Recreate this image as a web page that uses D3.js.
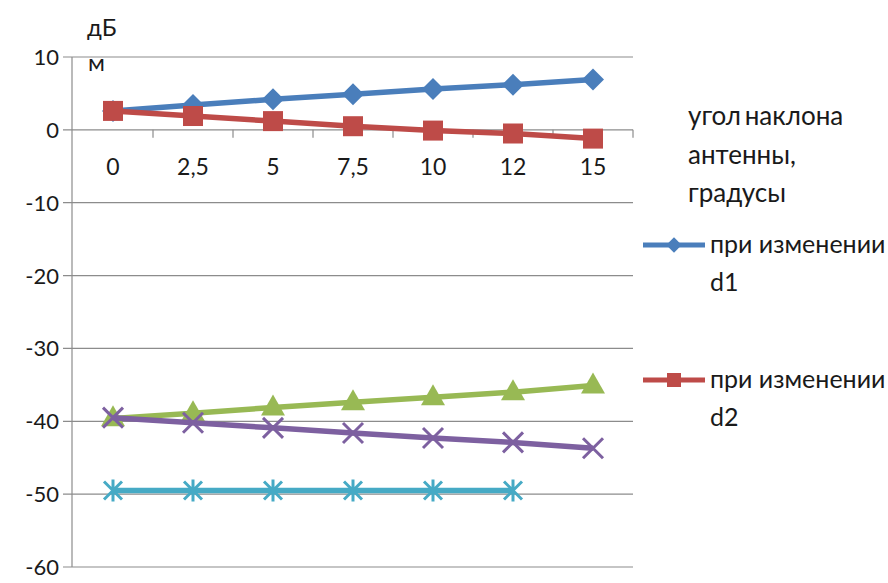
<!DOCTYPE html>
<html>
<head>
<meta charset="utf-8">
<script src="https://cdn.jsdelivr.net/npm/d3@7"></script>
<style>
  body { margin: 0; background: #fff; }
  svg text { font-family: Lato, "Open Sans", sans-serif; fill: #1a1a1a; }
</style>
</head>
<body>
<svg id="chart" width="888" height="583"></svg>
<script>
// categories: antenna tilt angle, degrees
const angles = ['0', '2,5', '5', '7,5', '10', '12', '15'];
const yTicks = [10, 0, -10, -20, -30, -40, -50, -60];

// dBm values
const d1 = [2.6, 3.4, 4.2, 4.9, 5.6, 6.2, 6.9];
const d2 = [2.6, 1.9, 1.2, 0.5, -0.1, -0.5, -1.2];
const green = [-39.6, -38.9, -38.1, -37.4, -36.7, -36.0, -35.1];
const purple = [-39.5, -40.2, -40.9, -41.6, -42.3, -42.9, -43.7];
const cyan = [-49.5, -49.5, -49.5, -49.5, -49.5, -49.5];

const series = [
    {values: d1, color: '#4a7ebb', marker: 'diamond'},
    {values: d2, color: '#be4b48', marker: 'square'},
    {values: green, color: '#98b954', marker: 'triangle'},
    {values: purple, color: '#7d60a0', marker: 'x'},
    {values: cyan, color: '#46aac5', marker: 'star'}
];

const svg = d3.select('#chart');
const x = d3.scaleBand().domain(angles).range([73, 633]);
const y = d3.scaleLinear().domain([-60, 10]).range([567, 57]);

// gridlines
svg.append('g').selectAll('line').data(yTicks).enter().append('line')
    .attr('x1', 63).attr('x2', 633)
    .attr('y1', d => y(d)).attr('y2', d => y(d))
    .attr('stroke', '#8c8c8c').attr('stroke-width', 1.2);

// y axis
svg.append('line').attr('x1', 72).attr('x2', 72).attr('y1', y(10)).attr('y2', y(-60))
    .attr('stroke', '#8c8c8c').attr('stroke-width', 1.2);
svg.append('g').selectAll('text').data(yTicks).enter().append('text')
    .attr('x', 59).attr('y', d => y(d) + 8)
    .attr('text-anchor', 'end').style('font-size', '22px')
    .text(d => d);

// x axis ticks on the zero line
const bounds = angles.slice(1).map(a => x(a)).concat([x.range()[1]]);
svg.append('g').selectAll('line').data(bounds).enter().append('line')
    .attr('x1', d => d).attr('x2', d => d)
    .attr('y1', y(0)).attr('y2', y(0) + 8)
    .attr('stroke', '#8c8c8c').attr('stroke-width', 1.2);
svg.append('g').selectAll('text').data(angles).enter().append('text')
    .attr('x', d => x(d) + x.bandwidth() / 2).attr('y', y(0) + 45)
    .attr('text-anchor', 'middle').style('font-size', '23px')
    .text(d => d);

// unit label
svg.append('text').attr('x', 87).attr('y', 36).style('font-size', '24px').text('дБ');
svg.append('text').attr('x', 88).attr('y', 71).style('font-size', '24px').text('м');

function drawMarker(g, type, color, k) {
    k = k || 1;
    if (type === 'diamond') {
        g.append('path').attr('d', `M0,${-11 * k}L${11 * k},0L0,${11 * k}L${-11 * k},0Z`).attr('fill', color);
    } else if (type === 'square') {
        g.append('rect').attr('x', -10 * k).attr('y', -10 * k)
            .attr('width', 20 * k).attr('height', 20 * k).attr('fill', color);
    } else if (type === 'triangle') {
        g.append('path').attr('d', 'M0,-13L12,8L-12,8Z').attr('fill', color);
    } else if (type === 'x') {
        g.append('path').attr('d', 'M-10,-10L10,10M-10,10L10,-10').attr('stroke', color).attr('stroke-width', 3);
    } else if (type === 'star') {
        g.append('path').attr('d', 'M-9,-9L9,9M-9,9L9,-9M0,-11L0,11').attr('stroke', color).attr('stroke-width', 3);
    }
}

const line = d3.line()
    .x((d, i) => x(angles[i]) + x.bandwidth() / 2)
    .y(d => y(d));

series.forEach(s => {
    const g = svg.append('g');
    g.append('path').datum(s.values).attr('d', line)
        .attr('fill', 'none').attr('stroke', s.color).attr('stroke-width', 5.5);
    s.values.forEach((v, i) => {
        const m = g.append('g')
            .attr('transform', `translate(${x(angles[i]) + x.bandwidth() / 2},${y(v)})`);
        drawMarker(m, s.marker, s.color);
    });
});

// legend
const legend = svg.append('g');
['угол наклона', 'антенны,', 'градусы'].forEach((t, i) => {
    legend.append('text').attr('x', 688).attr('y', 125 + i * 38.5)
        .style('font-size', '26px').style('word-spacing', '-3px').text(t);
});
const entries = [
    {s: series[0], lines: ['при изменении', 'd1'], y: 245},
    {s: series[1], lines: ['при изменении', 'd2'], y: 380}
];
entries.forEach(e => {
    const g = legend.append('g');
    g.append('line').attr('x1', 643).attr('x2', 705).attr('y1', e.y).attr('y2', e.y)
        .attr('stroke', e.s.color).attr('stroke-width', 5);
    const m = g.append('g').attr('transform', `translate(674,${e.y})`);
    drawMarker(m, e.s.marker, e.s.color, 0.7);
    e.lines.forEach((t, i) => {
        g.append('text').attr('x', 710).attr('y', e.y + 8 + i * 38)
            .style('font-size', '25px').text(t);
    });
});
</script>
</body>
</html>
